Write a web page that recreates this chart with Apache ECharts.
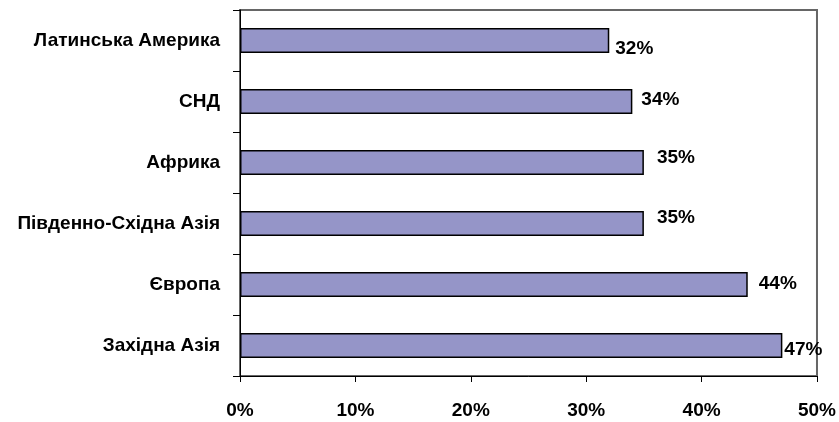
<!DOCTYPE html>
<html>
<head>
<meta charset="utf-8">
<script src="https://cdn.jsdelivr.net/npm/echarts@6/dist/echarts.min.js"></script>
<style>
  html, body { margin: 0; padding: 0; background: #fff; }
  #chart { width: 839px; height: 422px; }
</style>
</head>
<body>
<div id="chart"></div>
<script>
  // regions, top to bottom
  const regions = [
    'Латинська Америка',
    'СНД',
    'Африка',
    'Південно-Східна Азія',
    'Європа',
    'Західна Азія'
  ];
  const shares = [32, 34, 35, 35, 44, 47];
  const xTicks = [0, 10, 20, 30, 40, 50];

  // label nudges, same order as regions (style only)
  const labelNudge = [[3, 8], [6, -2], [10, -5], [10, -6], [8, -1], [-1, 4]];

  const font = 'Liberation Sans, Arial, sans-serif';

  const chart = echarts.init(document.getElementById('chart'));
  chart.setOption({
    animation: false,
    textStyle: { fontFamily: font },
    grid: {
      left: 240, right: 21, top: 10, bottom: 46, containLabel: false,
      show: true, borderColor: '#666666', borderWidth: 2, backgroundColor: '#ffffff'
    },
    xAxis: {
      type: 'value',
      min: xTicks[0],
      max: xTicks[xTicks.length - 1],
      interval: 10,
      axisLine: { show: true, lineStyle: { color: '#000', width: 1 } },
      axisTick: { show: true, length: 6, lineStyle: { color: '#000' } },
      splitLine: { show: false },
      axisLabel: {
        margin: 25,
        color: '#000',
        fontWeight: 'bold',
        fontSize: 19,
        fontFamily: font,
        formatter: v => v + '%'
      }
    },
    yAxis: {
      type: 'category',
      inverse: true,
      data: regions,
      axisLine: { show: true, lineStyle: { color: '#000', width: 1 } },
      axisTick: { show: true, length: 7, lineStyle: { color: '#000' } },
      axisLabel: {
        margin: 20,
        color: '#000',
        fontWeight: 'bold',
        fontSize: 19,
        fontFamily: font
      }
    },
    series: [{
      type: 'bar',
      barWidth: '41%',
      data: shares.map((v, i) => ({
        value: v,
        label: { offset: labelNudge[i] }
      })),
      itemStyle: { color: '#9595c8', borderColor: '#000', borderWidth: 1.5 },
      label: {
        show: true,
        position: 'right',
        distance: 3,
        color: '#000',
        fontWeight: 'bold',
        fontSize: 19,
        fontFamily: font,
        formatter: p => p.value + '%'
      }
    }]
  });
</script>
</body>
</html>
